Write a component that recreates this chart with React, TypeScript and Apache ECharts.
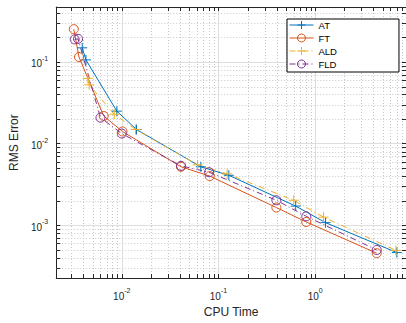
import React, { useEffect, useRef } from "react";
import * as echarts from "echarts";

const seriesNames = ["AT", "FT", "ALD", "FLD"];
const atX = [3.9e-3, 4.26e-3, 8.89e-3, 0.0142, 0.0657, 0.128, 0.629, 1.28, 7.0];
const atY = [0.149, 0.106, 0.025, 0.0149, 5.21e-3, 4.1e-3, 1.72e-3, 1.08e-3, 4.64e-4];
const ftX = [3.19e-3, 3.61e-3, 6.5e-3, 0.01017, 0.041, 0.0812, 0.397, 0.809, 4.33];
const ftY = [0.252, 0.115, 0.0218, 0.0141, 5.21e-3, 4.01e-3, 1.65e-3, 1.1e-3, 4.56e-4];
const aldX = [4.46e-3, 4.6e-3, 8.36e-3, 0.0139, 0.0608, 0.123, 0.6, 1.22, 6.84];
const aldY = [0.063, 0.0525, 0.0229, 0.0149, 5.5e-3, 4.27e-3, 2.03e-3, 1.26e-3, 4.94e-4];
const fldX = [3.26e-3, 3.53e-3, 6.02e-3, 0.01, 0.041, 0.08, 0.397, 0.809, 4.33];
const fldY = [0.189, 0.192, 0.0208, 0.0133, 5.35e-3, 4.47e-3, 2.03e-3, 1.29e-3, 4.99e-4];

const xMin = 2.1e-3;
const xMax = 8.7;
const yMin = 2.26e-4;
const yMax = 0.471;
const xTitle = "CPU Time";
const yTitle = "RMS Error";

const colors = ["#0072BD", "#D95319", "#EDB120", "#7E2F8E"];
const FONT = "Liberation Sans, Arial, Helvetica, sans-serif";
const AX = "#262626";
const PLUS = "path://M5 0V10M0 5H10";

function minorValues(lo: number, hi: number) {
  const out: number[] = [];
  for (let e = Math.floor(Math.log10(lo)); e <= Math.ceil(Math.log10(hi)); e++) {
    for (let m = 2; m <= 9; m++) {
      const v = m * Math.pow(10, e);
      if (v > lo && v < hi) out.push(v);
    }
  }
  return out;
}

function fmt(v: number) {
  const l = Math.log10(v);
  const e = Math.round(l);
  if (Math.abs(l - e) > 1e-6) return "";
  return `{b|10}{s|${e}}`;
}

const rich = {
  b: { fontSize: 10, lineHeight: 14, verticalAlign: "bottom", color: AX, fontFamily: FONT },
  s: { fontSize: 7, lineHeight: 14, verticalAlign: "top", color: AX, fontFamily: FONT },
};

export default function App() {
  const ref = useRef<HTMLDivElement>(null);
  useEffect(() => {
    if (!ref.current) return;
    const chart = echarts.init(ref.current, null, { renderer: "svg" });
    const xs = [atX, ftX, aldX, fldX];
    const ys = [atY, ftY, aldY, fldY];
    const symbols = [PLUS, "circle", PLUS, "circle"];
    const dashes: any[] = ["solid", "solid", [6, 3, 1, 3], [6, 3, 1, 3]];
    const lineSeries = seriesNames.map((n, i) => ({
      name: n,
      type: "line",
      xAxisIndex: 0,
      yAxisIndex: 0,
      data: xs[i].map((x, k) => [x, ys[i][k]]),
      symbol: symbols[i],
      symbolSize: symbols[i] === "circle" ? 9 : 10,
      showAllSymbol: true,
      lineStyle: { color: colors[i], width: 1, type: dashes[i] },
      itemStyle: { color: "rgba(0,0,0,0)", borderColor: colors[i], borderWidth: 1 },
      emphasis: { disabled: true },
      z: 5,
      clip: false,
    }));
    const xm = minorValues(xMin, xMax);
    const ym = minorValues(yMin, yMax);
    const gridStyle = { stroke: "#c8c8c8", lineWidth: 1, lineDash: [1, 2] };
    const tickStyle = { stroke: AX, lineWidth: 1 };
    const TL = 4;
    const minorX = {
      type: "custom",
      xAxisIndex: 0,
      yAxisIndex: 0,
      silent: true,
      z: 1,
      clip: false,
      data: xm.map((v) => [v, yMin]),
      renderItem: (params: any, api: any) => {
        const cs = params.coordSys;
        const p = api.coord([api.value(0), api.value(1)]);
        const x = Math.round(p[0]) + 0.5;
        const t = cs.y;
        const b = cs.y + cs.height;
        return {
          type: "group",
          children: [
            { type: "line", shape: { x1: x, y1: t, x2: x, y2: b }, style: gridStyle },
            { type: "line", shape: { x1: x, y1: b, x2: x, y2: b - TL }, style: tickStyle },
            { type: "line", shape: { x1: x, y1: t, x2: x, y2: t + TL }, style: tickStyle },
          ],
        };
      },
    };
    const minorY = {
      type: "custom",
      xAxisIndex: 0,
      yAxisIndex: 0,
      silent: true,
      z: 1,
      clip: false,
      data: ym.map((v) => [xMin, v]),
      renderItem: (params: any, api: any) => {
        const cs = params.coordSys;
        const p = api.coord([api.value(0), api.value(1)]);
        const y = Math.round(p[1]) + 0.5;
        const l = cs.x;
        const r = cs.x + cs.width;
        return {
          type: "group",
          children: [
            { type: "line", shape: { x1: l, y1: y, x2: r, y2: y }, style: gridStyle },
            { type: "line", shape: { x1: l, y1: y, x2: l + TL, y2: y }, style: tickStyle },
            { type: "line", shape: { x1: r, y1: y, x2: r - TL, y2: y }, style: tickStyle },
          ],
        };
      },
    };
    const axisCommon = {
      type: "log",
      logBase: 10,
      axisLine: { show: true, lineStyle: { color: AX, width: 1 } },
      axisTick: { show: true, inside: true, length: TL, lineStyle: { color: AX } },
      minorTick: { show: false },
    };
    chart.setOption({
      animation: false,
      backgroundColor: "#ffffff",
      grid: { left: 53, top: 7, right: -1, bottom: 35, containLabel: false },
      legend: {
        data: seriesNames,
        orient: "vertical",
        left: 287,
        top: 19,
        itemWidth: 24,
        itemHeight: 10,
        itemGap: 3,
        padding: [1, 62, 3, 2],
        backgroundColor: "#ffffff",
        borderColor: "#000000",
        borderWidth: 1,
        borderRadius: 0,
        lineStyle: { width: 1 },
        itemStyle: { borderWidth: 1 },
        textStyle: { fontSize: 9.5, color: "#000", fontFamily: FONT },
      },
      xAxis: [
        {
          ...axisCommon,
          position: "bottom",
          min: xMin,
          max: xMax,
          name: xTitle,
          nameLocation: "middle",
          nameGap: 26,
          nameTextStyle: { fontSize: 12, color: AX, fontFamily: FONT },
          splitLine: { show: true, lineStyle: { color: "#dedede", width: 1 } },
          axisLabel: { show: true, margin: 9, formatter: fmt, rich, showMinLabel: false, showMaxLabel: false },
        },
        {
          ...axisCommon,
          position: "top",
          min: xMin,
          max: xMax,
          splitLine: { show: false },
          axisLabel: { show: false },
        },
      ],
      yAxis: [
        {
          ...axisCommon,
          position: "left",
          min: yMin,
          max: yMax,
          name: yTitle,
          nameLocation: "middle",
          nameGap: 34,
          nameTextStyle: { fontSize: 12, color: AX, fontFamily: FONT },
          splitLine: { show: true, lineStyle: { color: "#dedede", width: 1 } },
          axisLabel: { show: true, margin: 8, formatter: fmt, rich, showMinLabel: false, showMaxLabel: false },
        },
        {
          ...axisCommon,
          position: "right",
          min: yMin,
          max: yMax,
          splitLine: { show: false },
          axisLabel: { show: false },
        },
      ],
      series: [minorX, minorY, ...lineSeries],
    });
    return () => chart.dispose();
  }, []);
  return (
    <div
      ref={ref}
      style={{ position: "fixed", left: 0, top: 0, width: 406, height: 323, background: "#fff" }}
    />
  );
}
